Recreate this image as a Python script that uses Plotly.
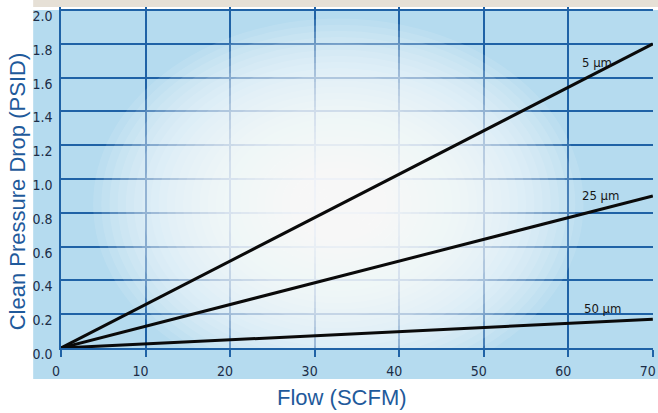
import plotly.graph_objects as go

# Data
flow = [0, 70]
dp_5um = [0, 1.80]
dp_25um = [0, 0.90]
dp_50um = [0, 0.17]
series_names = ["5 µm", "25 µm", "50 µm"]
label_pos_y = [1.69, 0.90, 0.235]
label_pos_x = [61.4, 61.4, 61.6]

x_ticks = [0, 10, 20, 30, 40, 50, 60, 70]
y_ticks = [0.0, 0.2, 0.4, 0.6, 0.8, 1.0, 1.2, 1.4, 1.6, 1.8, 2.0]
y_tick_text = [f"{v:.1f}" for v in y_ticks]

GRID = "#1f62a6"
PANEL = "#b5dbef"
NARROW = "DejaVu Sans Condensed, Liberation Sans Narrow, Liberation Sans, sans-serif"
TICKFONT = dict(family=NARROW, size=14, color="#1b2d47")
TITLEFONT = dict(family="Liberation Sans", size=22, color="#1f5a9b")

fig = go.Figure()
for ys in (dp_5um, dp_25um, dp_50um):
    fig.add_trace(go.Scatter(x=flow, y=ys, mode="lines",
                             line=dict(color="#0a0a0a", width=3),
                             showlegend=False, hoverinfo="skip"))

for name, lx, ly in zip(series_names, label_pos_x, label_pos_y):
    fig.add_annotation(x=lx, y=ly, text=name, showarrow=False, xanchor="left",
                       yanchor="middle",
                       font=dict(family=NARROW, size=13, color="#161616"))

# axis titles
fig.add_annotation(xref="paper", yref="paper", x=-0.074, y=0.46, textangle=-90,
                   text="Clean Pressure Drop (PSID)", showarrow=False,
                   xanchor="center", yanchor="middle", font=TITLEFONT)
fig.add_annotation(xref="paper", yref="paper", x=0.474, y=-0.1466,
                   text="Flow (SCFM)", showarrow=False,
                   xanchor="center", yanchor="middle", font=TITLEFONT)

shapes = []
# blue panel
shapes.append(dict(type="rect", xref="paper", yref="paper", x0=-0.047, x1=1.01,
                   y0=-0.0909, y1=0.9912, fillcolor=PANEL, line=dict(width=0), layer="below"))
# top strip
shapes.append(dict(type="rect", xref="paper", yref="paper", x0=-0.047, x1=1.01,
                   y0=1.0, y1=1.03, fillcolor="#e6e0d6", line=dict(width=0), layer="below"))
# radial white glow (styling only), drawn above the grid, below the lines
cx, cy, rx, ry = 32.8, 0.85, 29.0, 1.10
n = 30
for i in range(n):
    f = (n - i) / n
    shapes.append(dict(type="circle", xref="x", yref="y",
                       x0=cx - rx * f, x1=cx + rx * f, y0=cy - ry * f, y1=cy + ry * f,
                       fillcolor="white", opacity=0.1, line=dict(width=0),
                       layer="between"))
fig.update_layout(shapes=shapes)

fig.update_layout(
    width=658, height=413,
    margin=dict(l=61, r=2, t=7, b=65),
    paper_bgcolor="white",
    plot_bgcolor="rgba(0,0,0,0)",
    xaxis=dict(range=[0, 70.02], tickvals=x_ticks, ticktext=[str(v) for v in x_ticks],
               showgrid=True, gridcolor=GRID, gridwidth=1.5,
               showline=True, linecolor=GRID, linewidth=1.5,
               ticks="outside", ticklen=7, tickcolor=GRID, tickwidth=1.5,
               tickfont=TICKFONT, ticklabelshift=-5, ticklabelstandoff=2,
               ticklabeloverflow="allow", zeroline=False),
    yaxis=dict(range=[0, 2.0178], tickvals=y_ticks, ticktext=y_tick_text,
               showgrid=True, gridcolor=GRID, gridwidth=1.5,
               showline=True, linecolor=GRID, linewidth=1.5,
               ticks="", tickfont=TICKFONT, ticklabelshift=6, ticklabelstandoff=4,
               ticklabeloverflow="allow", zeroline=False),
)

fig.write_html("out.html", config={"displayModeBar": False},
               post_script="document.body.style.margin='0';")
